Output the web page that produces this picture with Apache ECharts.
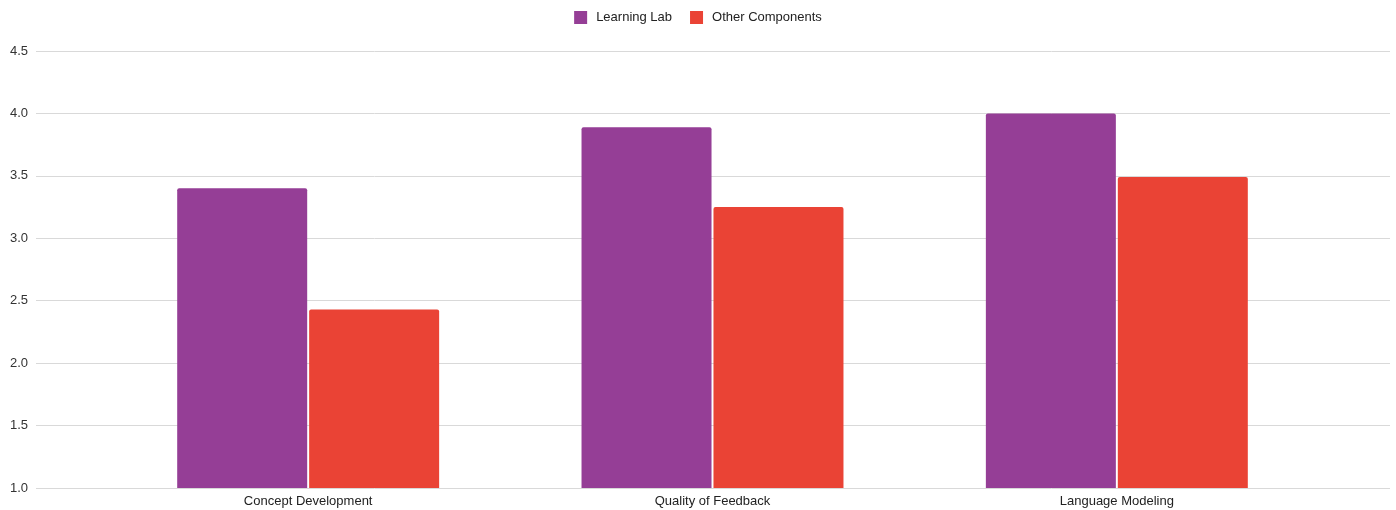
<!DOCTYPE html>
<html>
<head>
<meta charset="utf-8">
<script src="https://cdn.jsdelivr.net/npm/echarts@6/dist/echarts.min.js"></script>
<style>
  html, body { margin: 0; padding: 0; background: #fff; }
  #chart { width: 1396px; height: 510px; }
</style>
</head>
<body>
<div id="chart"></div>
<script>
// Average scores per component area
const categories = ['Concept Development', 'Quality of Feedback', 'Language Modeling'];
const learningLab = [3.40, 3.89, 4.00];
const otherComponents = [2.43, 3.25, 3.49];
const seriesNames = ['Learning Lab', 'Other Components'];
const yMin = 1.0, yMax = 4.5, yStep = 0.5;

const FONT = 'Arial, "Liberation Sans", Helvetica, sans-serif';
const chart = echarts.init(document.getElementById('chart'), null, { renderer: 'canvas' });

chart.setOption({
  animation: false,
  textStyle: { fontFamily: FONT },
  legend: {
    top: 6,
    left: 'center',
    itemWidth: 13,
    itemHeight: 13,
    itemGap: 18,
    icon: 'rect',
    textStyle: { fontSize: 13, color: '#222', fontFamily: FONT, padding: [0, 0, 0, 4] },
    data: seriesNames
  },
  grid: [
    // full-width grid carrying the value axis and gridlines
    { left: 36, right: 6, top: 51, bottom: 22 },
    // inner grid holding the bars and category labels
    { left: 106, right: 77, top: 51, bottom: 22 }
  ],
  xAxis: [
    { gridIndex: 0, type: 'category', data: categories, show: false },
    {
      gridIndex: 1, type: 'category', data: categories,
      axisLine: { show: false }, axisTick: { show: false },
      axisLabel: { fontSize: 13, color: '#222', margin: 7, fontFamily: FONT }
    }
  ],
  yAxis: [
    {
      gridIndex: 0, type: 'value', min: yMin, max: yMax, interval: yStep,
      axisLine: { show: false }, axisTick: { show: false },
      axisLabel: { fontSize: 13, color: '#333', margin: 8, fontFamily: FONT,
                   formatter: v => v.toFixed(1) },
      splitLine: { lineStyle: { color: '#d9d9d9', width: 1 } }
    },
    {
      gridIndex: 1, type: 'value', min: yMin, max: yMax, interval: yStep,
      show: false, splitLine: { show: false }
    }
  ],
  series: [
    {
      name: seriesNames[0], type: 'bar', xAxisIndex: 1, yAxisIndex: 1,
      data: learningLab, barWidth: 130, barGap: '1.5%',
      itemStyle: { color: '#953e96', borderRadius: [2, 2, 0, 0] }
    },
    {
      name: seriesNames[1], type: 'bar', xAxisIndex: 1, yAxisIndex: 1,
      data: otherComponents, barWidth: 130, barGap: '1.5%',
      itemStyle: { color: '#ea4335', borderRadius: [2, 2, 0, 0] }
    }
  ]
});
</script>
</body>
</html>
